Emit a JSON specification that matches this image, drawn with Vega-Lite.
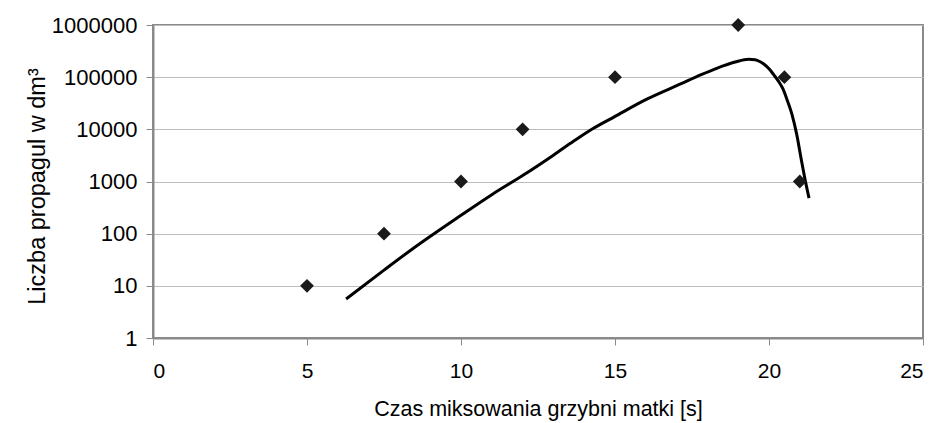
{
  "$schema": "https://vega.github.io/schema/vega-lite/v6.json",
  "width": 770,
  "height": 313,
  "autosize": {"type": "none"},
  "padding": {"left": 153, "top": 25, "right": 13, "bottom": 85},
  "background": "white",
  "config": {
    "font": "Liberation Sans",
    "view": {"stroke": "#8a8a8a", "strokeWidth": 2},
    "axis": {
      "labelFont": "Liberation Sans",
      "titleFont": "Liberation Sans",
      "labelFontSize": 22,
      "titleFontSize": 21.5,
      "labelColor": "#000",
      "titleColor": "#000",
      "titleFontWeight": "normal",
      "domainColor": "#8a8a8a",
      "domainWidth": 2,
      "tickColor": "#8a8a8a",
      "tickWidth": 1,
      "tickSize": 7
    }
  },
  "datasets": {
    "points": [
      {"t": 5, "n": 10},
      {"t": 7.5, "n": 100},
      {"t": 10, "n": 1000},
      {"t": 12, "n": 10000},
      {"t": 15, "n": 100000},
      {"t": 19, "n": 1000000},
      {"t": 20.5, "n": 100000},
      {"t": 21, "n": 1000}
    ],
    "curve": [
      {"t": 6.27, "n": 5.6},
      {"t": 7.5, "n": 20},
      {"t": 8.5, "n": 55},
      {"t": 10, "n": 225},
      {"t": 11, "n": 560},
      {"t": 12, "n": 1300},
      {"t": 13, "n": 3200},
      {"t": 13.65, "n": 5900},
      {"t": 14.3, "n": 10500},
      {"t": 14.95, "n": 17000},
      {"t": 16, "n": 37000},
      {"t": 17.13, "n": 74000},
      {"t": 17.8, "n": 112000},
      {"t": 18.3, "n": 148000},
      {"t": 18.9, "n": 195000},
      {"t": 19.34, "n": 221000},
      {"t": 19.55, "n": 216000},
      {"t": 19.7, "n": 200000},
      {"t": 19.85, "n": 175000},
      {"t": 20.0, "n": 145000},
      {"t": 20.15, "n": 112000},
      {"t": 20.3, "n": 85000},
      {"t": 20.45, "n": 60000},
      {"t": 20.6, "n": 35000},
      {"t": 20.75, "n": 19000},
      {"t": 20.9, "n": 8000},
      {"t": 21.05, "n": 2600},
      {"t": 21.2, "n": 900},
      {"t": 21.3, "n": 480}
    ]
  },
  "layer": [
    {
      "data": {"name": "curve"},
      "mark": {"type": "line", "color": "#000", "strokeWidth": 3, "interpolate": "monotone"},
      "encoding": {
        "x": {
          "field": "t", "type": "quantitative",
          "scale": {"domain": [0, 25], "nice": false},
          "axis": {"values": [0, 5, 10, 15, 20, 25], "grid": false, "labelFontSize": 21, "labelPadding": 15, "title": "Czas miksowania grzybni matki [s]", "titlePadding": 17}
        },
        "y": {
          "field": "n", "type": "quantitative",
          "scale": {"type": "log", "domain": [1, 1000000], "nice": false},
          "axis": {"values": [1, 10, 100, 1000, 10000, 100000, 1000000], "format": "d", "grid": true, "gridColor": "#bdbdbd", "gridWidth": 1, "labelPadding": 9, "title": "Liczba propagul w dm³", "titleFontSize": 23.5, "titlePadding": 2, "titleY": 161}
        }
      }
    },
    {
      "data": {"name": "points"},
      "mark": {"type": "point", "shape": "diamond", "filled": true, "color": "#1a1a1a", "size": 190, "opacity": 1},
      "encoding": {
        "x": {"field": "t", "type": "quantitative"},
        "y": {"field": "n", "type": "quantitative"}
      }
    }
  ]
}
